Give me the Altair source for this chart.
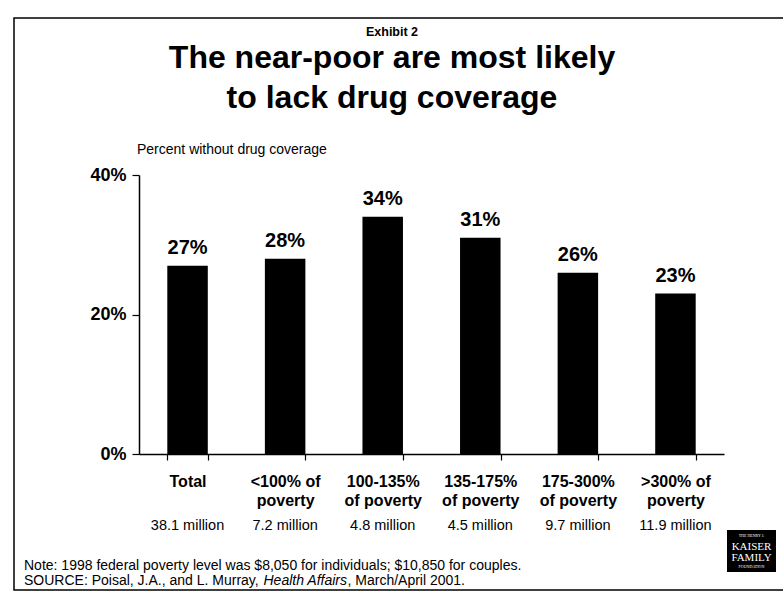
import altair as alt
import pandas as pd

# ---- data ----
categories = ["Total", "<100% of|poverty", "100-135%|of poverty",
              "135-175%|of poverty", "175-300%|of poverty", ">300% of|poverty"]
pct = [27, 28, 34, 31, 26, 23]
millions = ["38.1 million", "7.2 million", "4.8 million",
            "4.5 million", "9.7 million", "11.9 million"]
y_ticks = [0, 20, 40]

exhibit = "Exhibit 2"
title_lines = ["The near-poor are most likely", "to lack drug coverage"]
subtitle = "Percent without drug coverage"
note = "Note: 1998 federal poverty level was $8,050 for individuals; $10,850 for couples."
source_parts = ["SOURCE: Poisal, J.A., and L. Murray, ", "Health Affairs", ", March/April 2001."]

FONT = "Liberation Sans"

df = pd.DataFrame({
    "cat": categories,
    "pct": pct,
    "lab": [f"{v}%" for v in pct],
    "mil": millions,
})

W, H = 585, 279
LEFT, TOP = 139, 175

base = alt.Chart(df)

x_enc = alt.X("cat:N", sort=categories, title=None,
              scale=alt.Scale(paddingInner=0.585, paddingOuter=0.29),
              axis=alt.Axis(labelAngle=0, labelFont=FONT, labelFontSize=16,
                            labelFontWeight="bold", labelColor="black",
                            labelExpr="split(datum.label, '|')",
                            labelLineHeight=19.5, labelBaseline="top",
                            labelPadding=13, labelLimit=0,
                            tickBand="extent", tickSize=6, tickColor="black",
                            tickWidth=1.2, domainColor="black", domainWidth=1.5))

bars = base.mark_bar(color="black").encode(
    x=x_enc,
    y=alt.Y("pct:Q", title=None, scale=alt.Scale(domain=[0, 40]),
            axis=alt.Axis(values=y_ticks, labelExpr="datum.value + '%'",
                          labelFont=FONT, labelFontSize=18, labelFontWeight="bold",
                          labelColor="black", labelPadding=6, tickSize=7,
                          tickColor="black", tickWidth=1.2, domainColor="black",
                          domainWidth=1.5, grid=False)),
)

values = base.mark_text(baseline="bottom", dy=-8, font=FONT, fontSize=20,
                        fontWeight="bold", color="black").encode(
    x=alt.X("cat:N", sort=categories), y="pct:Q", text="lab:N")

mil_text = base.mark_text(baseline="middle", font=FONT, fontSize=14.5,
                          color="black").encode(
    x=alt.X("cat:N", sort=categories), y=alt.value(526 - TOP), text="mil:N")


def label(text, x, y, size, weight="normal", align="center", style="normal",
          color="black", font=FONT):
    return alt.Chart(pd.DataFrame({"t": [text]})).mark_text(
        align=align, baseline="middle", font=font, fontSize=size,
        fontWeight=weight, fontStyle=style, color=color
    ).encode(text="t:N", x=alt.value(x - LEFT), y=alt.value(y - TOP))


one = pd.DataFrame({"a": [0]})
frame = alt.Chart(one).mark_rect(fill=None, stroke="black", strokeWidth=1.5).encode(
    x=alt.value(14 - LEFT), x2=alt.value(800 - LEFT),
    y=alt.value(18 - TOP), y2=alt.value(590 - TOP))

logo_box = alt.Chart(one).mark_rect(color="black").encode(
    x=alt.value(727 - LEFT), x2=alt.value(776 - LEFT),
    y=alt.value(530 - TOP), y2=alt.value(572 - TOP))

NS = 14
texts = [
    label(exhibit, 392, 32, 12.5, "bold"),
    label(title_lines[0], 392, 58, 32, "bold"),
    label(title_lines[1], 392, 98, 32, "bold"),
    label(subtitle, 137, 150, 14, align="left"),
    label(note, 24, 566, NS, align="left"),
    label(source_parts[0], 24, 581, NS, align="left"),
    label(source_parts[1], 24 + 239.5, 581, NS, align="left", style="italic"),
    label(source_parts[2], 24 + 323.5, 581, NS, align="left"),
    label("THE HENRY J.", 751.5, 536, 4, color="white", font="Liberation Serif"),
    label("KAISER", 751.5, 547, 11, color="white", font="Liberation Serif"),
    label("FAMILY", 751.5, 558, 11, color="white", font="Liberation Serif"),
    label("FOUNDATION", 751.5, 567, 4, color="white", font="Liberation Serif"),
]

chart = alt.layer(frame, bars, values, mil_text, logo_box, *texts).properties(
    width=W, height=H,
    autosize=alt.AutoSizeParams(type="none"),
    padding={"left": LEFT, "top": TOP, "right": 783 - LEFT - W, "bottom": 602 - TOP - H},
    background="white",
).configure_view(stroke=None)

chart.save("out.html", embed_options={"renderer": "svg", "actions": False})
